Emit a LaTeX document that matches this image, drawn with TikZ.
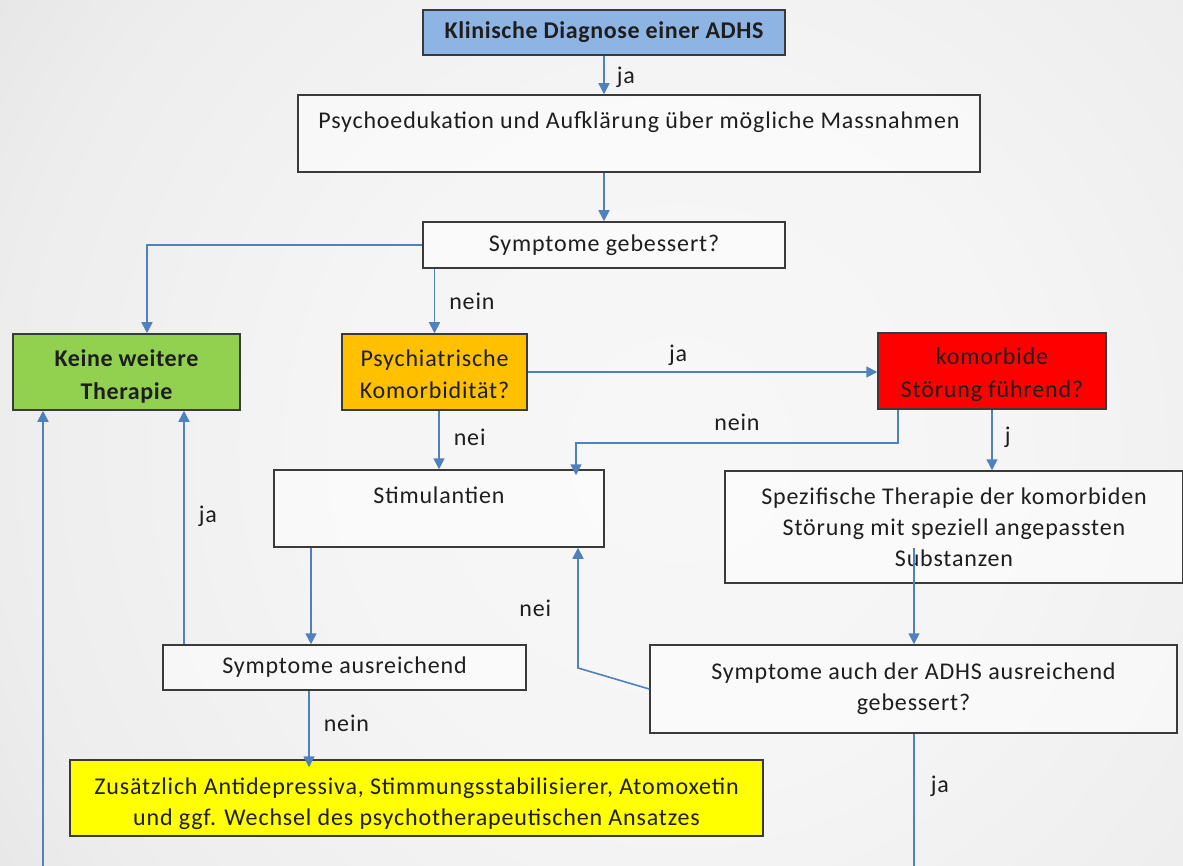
\documentclass[tikz,border=0pt]{standalone}
\usepackage{fontspec}
\setmainfont{Carlito}[LetterSpace=3.5]
\newfontfamily\boldface{Carlito}[LetterSpace=2.5]
\usetikzlibrary{arrows.meta}
\definecolor{linkblue}{HTML}{4F81BD}
\definecolor{boxline}{HTML}{3A3A3A}
\definecolor{diagblue}{HTML}{8DB4E2}
\definecolor{okgreen}{HTML}{92D050}
\definecolor{amber}{HTML}{FFC000}
\definecolor{alarmred}{HTML}{FF0000}
\definecolor{hiyellow}{HTML}{FFFF00}
\definecolor{txt}{HTML}{1E1E1E}
% extra head room on a first line, to lower a text block in its box
\newcommand{\headroom}[1]{\rule{0pt}{#1}}
% soft backdrop: light centre, darker towards the corners
\pgfdeclareradialshading{backdrop}{\pgfpoint{0bp}{0bp}}{%
  color(0bp)=(black!3);
  color(10bp)=(black!4);
  color(20bp)=(black!7);
  color(30bp)=(black!13);
  color(40bp)=(black!23);
  color(50bp)=(black!34)}
\begin{document}
\begin{tikzpicture}[x=1pt,y=-1pt,
  box/.style={draw=boxline, line width=1.5pt, fill=white, fill opacity=0.5,
    text opacity=1, draw opacity=1, text=txt, align=center, inner sep=0pt,
    font=\fontsize{24}{31}\selectfont},
  filled/.style={fill=#1, fill opacity=1},
  link/.style={draw=linkblue, line width=1.6pt,
    -{Triangle[width=11pt,length=11pt]}},
  bareline/.style={draw=linkblue, line width=1.6pt},
  lbl/.style={text=txt, font=\fontsize{24}{28}\selectfont, inner sep=0pt}]
% page and background
\useasboundingbox (0,0) rectangle (1183,866);
\begin{scope}
  \clip (0,0) rectangle (1183,866);
  \shade[shading=backdrop] (-170,-400) rectangle (1530,1300);
\end{scope}

% boxes
\node[box, filled=diagblue, font=\fontsize{24}{31}\selectfont\boldface\bfseries,
  minimum width=362pt, minimum height=45pt] (klin) at (604,32.5)
  {Klinische Diagnose einer ADHS};
\node[box, minimum width=682pt, minimum height=77pt] (psy) at (639,133.5)
  {Psychoedukation und Aufklärung über mögliche Massnahmen\\[-13pt]\strut};
\node[box, minimum width=362pt, minimum height=46pt] (sg) at (604,245)
  {Symptome gebessert?};
\node[box, filled=okgreen, font=\fontsize{24}{33}\selectfont\boldface\bfseries,
  minimum width=227pt, minimum height=76pt] (keine) at (126.5,372)
  {\headroom{26pt}Keine weitere\\Therapie};
\node[box, filled=amber, font=\fontsize{24}{32}\selectfont,
  minimum width=185pt, minimum height=76pt] (pk) at (434.5,372)
  {\headroom{22pt}Psychiatrische\\Komorbidität?};
\node[box, filled=alarmred, font=\fontsize{24}{33}\selectfont,
  minimum width=228pt, minimum height=76pt] (kf) at (992,371)
  {\headroom{25pt}komorbide\\Störung führend?};
\node[box, minimum width=330pt, minimum height=77pt] (stim) at (439,508.5)
  {Stimulantien\\[-13pt]\strut};
\node[box, minimum width=458pt, minimum height=112pt] (spez) at (954,527)
  {Spezifische Therapie der komorbiden\\Störung mit speziell angepassten\\Substanzen};
\node[box, minimum width=363pt, minimum height=45pt] (sa) at (344.5,667.5)
  {Symptome ausreichend};
\node[box, minimum width=527pt, minimum height=88pt] (sadhs) at (913.5,689)
  {Symptome auch der ADHS ausreichend\\gebessert?};
\node[box, filled=hiyellow, minimum width=693pt, minimum height=76pt] (zus) at (416.5,798)
  {\headroom{29pt}Zusätzlich Antidepressiva, Stimmungsstabilisierer, Atomoxetin\\und ggf. Wechsel des psychotherapeutischen Ansatzes};

% free ends and bends
\coordinate (bl) at (43,866);
\coordinate (spzout) at (914,548);
\coordinate (yesout) at (914,866);
\coordinate (bend) at (578,668);

% connectors
\draw[link] (klin.south) -- (klin.south |- psy.north)
  node[lbl, pos=0.55, right=12pt] {ja};
\draw[link] (psy.south -| klin.south) -- (sg.north);
\draw[link] (sg.west) -| ([xshift=20.5pt]keine.north);
\draw[link] (pk.north |- sg.south) -- (pk.north)
  node[lbl, pos=0.5, right=14pt] {nein};
\draw[link] (pk.east) -- (pk.east -| kf.west)
  node[lbl, pos=0.43, above=6pt] {ja};
\draw[link] ([xshift=-94pt]kf.south) -- ++(0,33)
  -| ([xshift=137pt,yshift=-6pt]stim.north)
  node[lbl, pos=0.25, above=11pt] {nein};
\draw[link] (pk.south -| stim.north) -- (stim.north)
  node[lbl, pos=0.45, right=14pt] {nei};
\draw[link] (kf.south) -- (kf.south |- spez.north)
  node[lbl, pos=0.45, right=12pt] {j};
\draw[link] ([xshift=-128pt]stim.south) -- ([xshift=-128pt]stim.south |- sa.north);
\draw[link] ([xshift=-160.5pt]sa.north) -- ([xshift=-160.5pt]sa.north |- keine.south)
  node[lbl, pos=0.55, right=14pt] {ja};
\draw[link] (spzout) -- (spzout |- sadhs.north);
\draw[link] (sadhs.west) -- (bend) -- (bend |- stim.south)
  node[lbl, pos=0.5, left=26pt] {nei};
\draw[link] ([xshift=-35.5pt]sa.south) -- ([xshift=-35.5pt,yshift=-8pt]sa.south |- zus.north)
  node[lbl, pos=0.42, right=14pt] {nein};
\draw[bareline] (yesout |- sadhs.south) -- (yesout)
  node[lbl, pos=0.4, right=16pt] {ja};
\draw[link] (bl) -- (bl |- keine.south);
\end{tikzpicture}
\end{document}
